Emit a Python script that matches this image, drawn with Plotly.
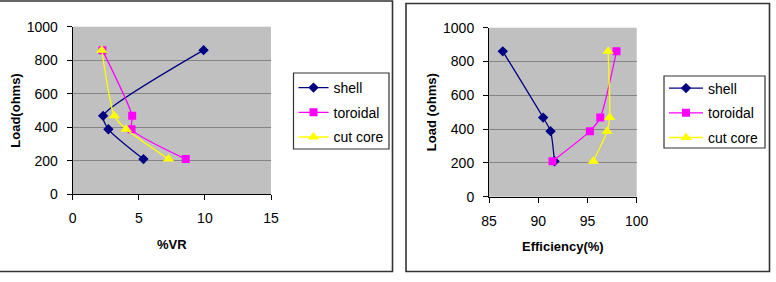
import plotly.graph_objects as go

W, H = 776, 282

# ---- data ----
series_names = ["shell", "toroidal", "cut core"]

vr_shell = [9.9, 2.3, 2.7, 5.35]
vr_toroidal = [2.25, 4.5, 4.45, 8.55]
vr_cutcore = [2.2, 3.15, 4.05, 7.25]

eff_shell = [86.4, 90.5, 91.25, 91.65]
eff_toroidal = [97.95, 96.3, 95.25, 91.45]
eff_cutcore = [97.1, 97.25, 97.0, 95.6]

load_ohms = [860, 468, 388, 210]

colors = ["#000080", "#FF00FF", "#FFFF00"]
symbols = ["diamond", "square", "triangle-up"]
msizes = [8, 8, 10]

FONT = "Liberation Sans, Arial, sans-serif"

def px_x(p):
    return p / W

def px_y(p):
    return 1 - p / H

fig = go.Figure()

left_x = [vr_shell, vr_toroidal, vr_cutcore]
right_x = [eff_shell, eff_toroidal, eff_cutcore]

for i, name in enumerate(series_names):
    fig.add_trace(go.Scatter(
        x=left_x[i], y=load_ohms, name=name, mode="lines+markers",
        line=dict(color=colors[i], width=1.3, shape="spline", smoothing=0.6),
        marker=dict(color=colors[i], symbol=symbols[i], size=msizes[i]),
        xaxis="x", yaxis="y", legend="legend", legendgroup="a" + str(i),
    ))
for i, name in enumerate(series_names):
    fig.add_trace(go.Scatter(
        x=right_x[i], y=load_ohms, name=name, mode="lines+markers",
        line=dict(color=colors[i], width=1.3, shape="spline", smoothing=0.6),
        marker=dict(color=colors[i], symbol=symbols[i], size=msizes[i]),
        xaxis="x2", yaxis="y2", legend="legend2", legendgroup="b" + str(i),
    ))

axis_common = dict(
    showline=True, linecolor="black", linewidth=1,
    ticks="outside", ticklen=5, tickcolor="black", automargin=False,
    zeroline=False, tickfont=dict(family=FONT, size=14, color="black"),
)

fig.update_layout(
    width=W, height=H,
    margin=dict(l=0, r=0, t=0, b=0, autoexpand=False),
    paper_bgcolor="white",
    plot_bgcolor="#C0C0C0",
    font=dict(family=FONT, size=13, color="black"),
    xaxis=dict(domain=[px_x(72.7), px_x(271)], range=[0, 15], dtick=5,
               showgrid=False, anchor="y", ticklabelstandoff=6,
               title=dict(text="<b>%VR</b>", font=dict(size=13), standoff=14),
               **axis_common),
    yaxis=dict(domain=[px_y(194.3), px_y(26.7)], range=[0, 1000], dtick=200,
               showgrid=True, gridcolor="#858585", gridwidth=1, anchor="x",
               ticklabelstandoff=6,
               title=dict(text="<b>Load(ohms)</b>", font=dict(size=13), standoff=3),
               **axis_common),
    xaxis2=dict(domain=[px_x(489), px_x(636.7)], range=[85, 100], dtick=5,
                showgrid=False, anchor="y2", ticklabelstandoff=6,
                title=dict(text="<b>Efficiency(%)</b>", font=dict(size=13), standoff=14),
                **axis_common),
    yaxis2=dict(domain=[px_y(196.7), px_y(27.7)], range=[0, 1000], dtick=200,
                showgrid=True, gridcolor="#858585", gridwidth=1, anchor="x2",
                ticklabelstandoff=6,
                title=dict(text="<b>Load (ohms)</b>", font=dict(size=13), standoff=3),
                **axis_common),
    legend=dict(x=px_x(293.5), y=px_y(72), xanchor="left", yanchor="top",
                borderwidth=0, bgcolor="rgba(0,0,0,0)",
                font=dict(size=14), tracegroupgap=3.5, itemwidth=30),
    legend2=dict(x=px_x(664), y=px_y(72.5), xanchor="left", yanchor="top",
                 borderwidth=0, bgcolor="rgba(0,0,0,0)",
                 font=dict(size=14), tracegroupgap=3.5, itemwidth=34),
    shapes=[
        dict(type="rect", xref="paper", yref="paper",
             x0=px_x(-2), x1=px_x(392.5), y0=px_y(271.5), y1=px_y(1),
             line=dict(color="#333333", width=1.6), layer="below"),
        dict(type="rect", xref="paper", yref="paper",
             x0=px_x(406), x1=px_x(769.5), y0=px_y(271.5), y1=px_y(3.5),
             line=dict(color="#333333", width=1.6), layer="below"),
        # legend frames
        dict(type="rect", xref="paper", yref="paper",
             x0=px_x(293.5), x1=px_x(389), y0=px_y(149), y1=px_y(73),
             line=dict(color="#333333", width=1.2), fillcolor="white", layer="above"),
        dict(type="rect", xref="paper", yref="paper",
             x0=px_x(664), x1=px_x(765), y0=px_y(148), y1=px_y(76),
             line=dict(color="#333333", width=1.2), fillcolor="white", layer="above"),
    ],
)

fig.write_html("out.html")
